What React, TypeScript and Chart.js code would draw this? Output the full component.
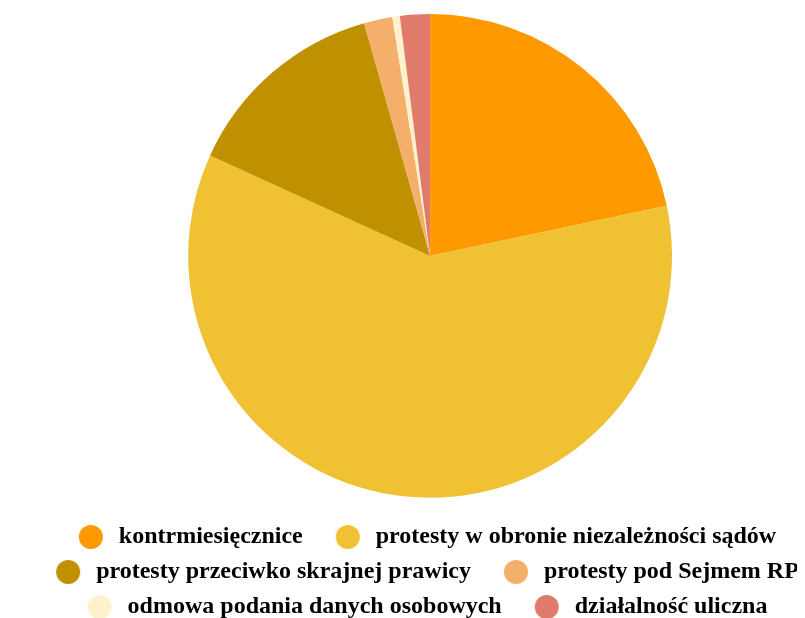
import React, { useEffect, useRef } from "react";
import { Chart, registerables } from "chart.js";

Chart.register(...registerables);

const categories = [
  "kontrmiesięcznice",
  "protesty w obronie niezależności sądów",
  "protesty przeciwko skrajnej prawicy",
  "protesty pod Sejmem RP",
  "odmowa podania danych osobowych",
  "działalność uliczna",
];
const values = [21.7, 60.2, 13.8, 1.9, 0.5, 2.0];
const colors = ["#FF9900", "#EFC133", "#BF9000", "#F4B06A", "#FFF1CC", "#E07B6B"];

function makeMarker(color: string): HTMLCanvasElement {
  const c = document.createElement("canvas");
  c.width = 60;
  c.height = 26;
  const ctx = c.getContext("2d")!;
  ctx.fillStyle = color;
  ctx.beginPath();
  ctx.arc(39, 13, 12, 0, Math.PI * 2);
  ctx.fill();
  return c;
}

export default function App() {
  const ref = useRef<HTMLCanvasElement>(null);
  useEffect(() => {
    if (!ref.current) return;
    const markers = colors.map(makeMarker);
    const baseGen = (Chart as any).overrides.pie.plugins.legend.labels.generateLabels;
    const chart = new Chart(ref.current, {
      type: "pie",
      data: {
        labels: categories,
        datasets: [
          {
            data: values,
            backgroundColor: colors,
            borderWidth: 0,
          },
        ],
      },
      options: {
        animation: false,
        responsive: true,
        maintainAspectRatio: false,
        layout: { padding: { top: 6, left: 0, right: 0, bottom: 0 } },
        plugins: {
          tooltip: { enabled: false },
          title: {
            display: true,
            text: "",
            position: "left",
            fullSize: false,
            font: { size: 1 },
            padding: { top: 13, bottom: 13 },
          },
          legend: {
            position: "bottom",
            title: { display: true, text: "", font: { size: 1 }, padding: { top: 8, bottom: 7 } },
            labels: {
              usePointStyle: true,
              pointStyleWidth: 50,
              padding: 11,
              color: "#000",
              font: { family: "'Liberation Serif', serif", size: 24, weight: "bold" },
              generateLabels: (chart: any) =>
                baseGen(chart).map((item: any, i: number) => ({ ...item, pointStyle: markers[i] })),
            },
          },
        },
      },
    });
    return () => chart.destroy();
  }, []);
  return (
    <div style={{ width: 789, height: 610, overflow: "hidden" }}>
      <div style={{ width: 817, height: 621, position: "relative" }}>
        <canvas ref={ref} />
      </div>
    </div>
  );
}
